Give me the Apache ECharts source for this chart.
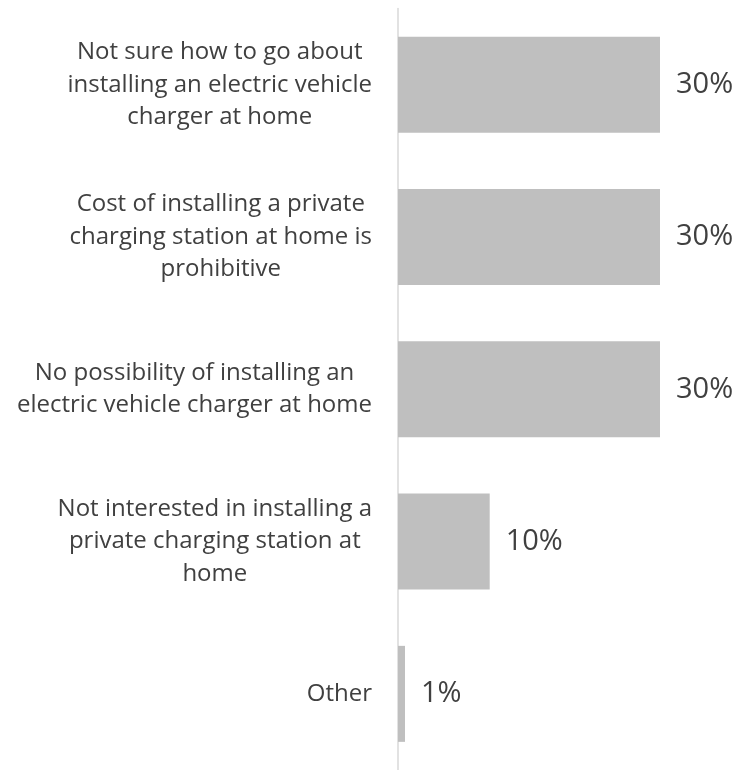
<!DOCTYPE html>
<html>
<head>
<meta charset="utf-8">
<script src="https://cdn.jsdelivr.net/npm/echarts@6/dist/echarts.min.js"></script>
<style>
html,body{margin:0;padding:0;background:#fff;}
#chart{width:736px;height:770px;}
</style>
</head>
<body>
<div id="chart"></div>
<script>
const categories = [
  "Not sure how to go about\ninstalling an electric vehicle\ncharger at home",
  "Cost of installing a private\ncharging station at home is\nprohibitive",
  "No possibility of installing an\nelectric vehicle charger at home",
  "Not interested in installing a\nprivate charging station at\nhome",
  "Other"
];
const values = [30, 30, 30, 10.5, 0.8];
const valueLabels = ["30%", "30%", "30%", "10%", "1%"];

const chart = echarts.init(document.getElementById('chart'));
chart.setOption({
  backgroundColor: '#ffffff',
  animation: false,
  grid: { left: 398, right: 76, top: 8.6, height: 764, containLabel: false },
  xAxis: {
    type: 'value', min: 0, max: 30, show: false
  },
  yAxis: {
    type: 'category',
    inverse: true,
    data: categories,
    axisLine: { show: true, lineStyle: { color: '#d9d9d9', width: 1.5 } },
    axisTick: { show: false },
    splitLine: { show: false },
    axisLabel: {
      margin: 26,
      align: 'right',
      fontFamily: 'Open Sans',
      fontSize: 24,
      lineHeight: 32.5,
      color: '#404040',
      formatter: function (v) {
        return v.split('\n').map(function (l) { return '{c|' + l + '}'; }).join('\n');
      },
      rich: {
        c: { align: 'center', fontFamily: 'Open Sans', fontSize: 24, lineHeight: 32.5, color: '#404040' }
      }
    }
  },
  series: [{
    type: 'bar',
    data: values,
    barWidth: 96,
    itemStyle: { color: '#bfbfbf' },
    label: {
      show: true,
      position: 'right',
      distance: 16,
      fontFamily: 'Open Sans',
      fontSize: 29,
      color: '#404040',
      formatter: function (p) { return valueLabels[p.dataIndex]; }
    }
  }]
});
</script>
</body>
</html>
